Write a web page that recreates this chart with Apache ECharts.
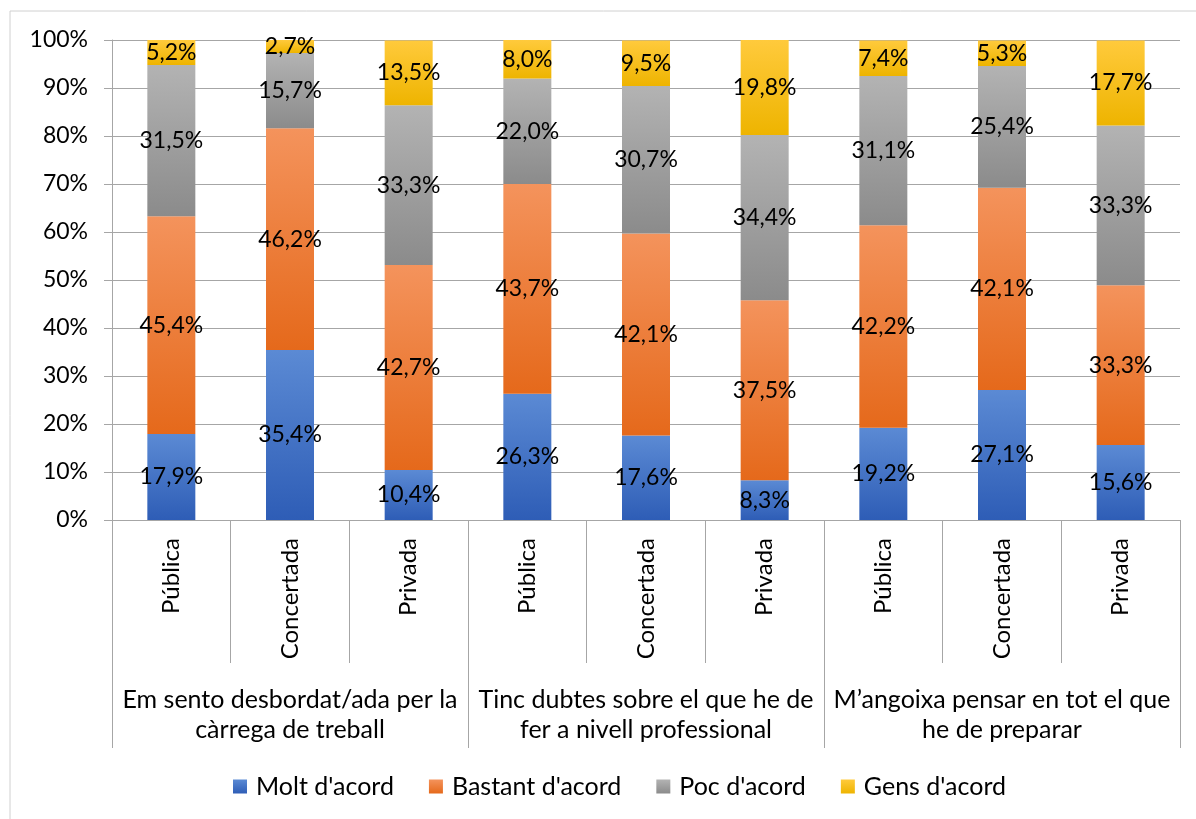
<!DOCTYPE html>
<html><head><meta charset="utf-8">
<script src="https://cdn.jsdelivr.net/npm/echarts@6/dist/echarts.min.js"></script>
<style>html,body{margin:0;padding:0;background:#fff}#c{width:1196px;height:819px}</style>
</head><body><div id="c"></div>
<script>
const categories = ['Pública','Concertada','Privada','Pública','Concertada','Privada','Pública','Concertada','Privada'];
const groups = ['Em sento desbordat/ada per la\ncàrrega de treball','Tinc dubtes sobre el que he de\nfer a nivell professional','M’angoixa pensar en tot el que\nhe de preparar'];
const seriesNames = ["Molt d'acord","Bastant d'acord","Poc d'acord","Gens d'acord"];
const molt    = [17.9, 35.4, 10.4, 26.3, 17.6, 8.3, 19.2, 27.1, 15.6];
const bastant = [45.4, 46.2, 42.7, 43.7, 42.1, 37.5, 42.2, 42.1, 33.3];
const poc     = [31.5, 15.7, 33.3, 22.0, 30.7, 34.4, 31.1, 25.4, 33.3];
const gens    = [5.2, 2.7, 13.5, 8.0, 9.5, 19.8, 7.4, 5.3, 17.7];

const FONT = 'Lato';
function grad(top, bottom){
  return {type:'linear',x:0,y:0,x2:0,y2:1,colorStops:[{offset:0,color:top},{offset:1,color:bottom}]};
}
const fills = [grad('#5b8ad4','#2e5db6'), grad('#f4935c','#e5691b'), grad('#b3b3b3','#8b8b8b'), grad('#ffca3c','#eeb400')];
const legendColors = [grad('#5b8ad4','#2e5db6'), grad('#f4935c','#e5691b'), grad('#b3b3b3','#8b8b8b'), grad('#ffca3c','#eeb400')];
const values = [molt, bastant, poc, gens];

const chart = echarts.init(document.getElementById('c'), null, {renderer:'canvas'});
chart.setOption({
  animation:false,
  textStyle:{fontFamily:FONT},
  graphic:[{type:'rect',shape:{x:10,y:11,width:1400,height:1000},style:{fill:'none',stroke:'#d0d0d0',lineWidth:1},silent:true,z:-10}],
  grid:{left:112,right:16,top:40,bottom:299},
  legend:{
    top:769, left:228, itemWidth:14, itemHeight:14, itemGap:35,
    icon:'rect',
    textStyle:{fontFamily:FONT,fontSize:25,color:'#000',padding:[0,0,0,4]},
    data: seriesNames.map((n,i)=>({name:n,itemStyle:{color:legendColors[i]}}))
  },
  xAxis:[
    {type:'category',data:categories,position:'bottom',
     axisLine:{lineStyle:{color:'#a6a6a6'}},
     axisTick:{show:true,length:143,lineStyle:{color:'#a6a6a6'},interval:0},
     axisLabel:{rotate:90,margin:18,interval:0,fontFamily:FONT,fontSize:24,color:'#000'}},
    {type:'category',data:groups,position:'bottom',
     axisLine:{show:false},
     axisTick:{show:true,length:228,lineStyle:{color:'#a6a6a6'},interval:0},
     axisLabel:{margin:165,interval:0,fontFamily:FONT,fontSize:25,lineHeight:30,color:'#000'}}
  ],
  yAxis:{type:'value',min:0,max:100,interval:10,
    axisLine:{show:true,lineStyle:{color:'#a6a6a6'}},
    axisTick:{show:true,length:8,lineStyle:{color:'#a6a6a6'}},
    splitLine:{lineStyle:{color:'#a6a6a6'}},
    axisLabel:{margin:24,formatter:v=>v+'%',fontFamily:FONT,fontSize:23,color:'#000'}},
  series: seriesNames.map((n,i)=>({
    name:n,type:'bar',stack:'s',xAxisIndex:0,barWidth:48,
    data:values[i],
    itemStyle:{color:fills[i]},
    label:{show:true,position:'inside',fontFamily:FONT,fontSize:23,color:'#000',
      formatter:p=>p.value.toFixed(1).replace('.',',')+'%'}
  }))
});
</script></body></html>
